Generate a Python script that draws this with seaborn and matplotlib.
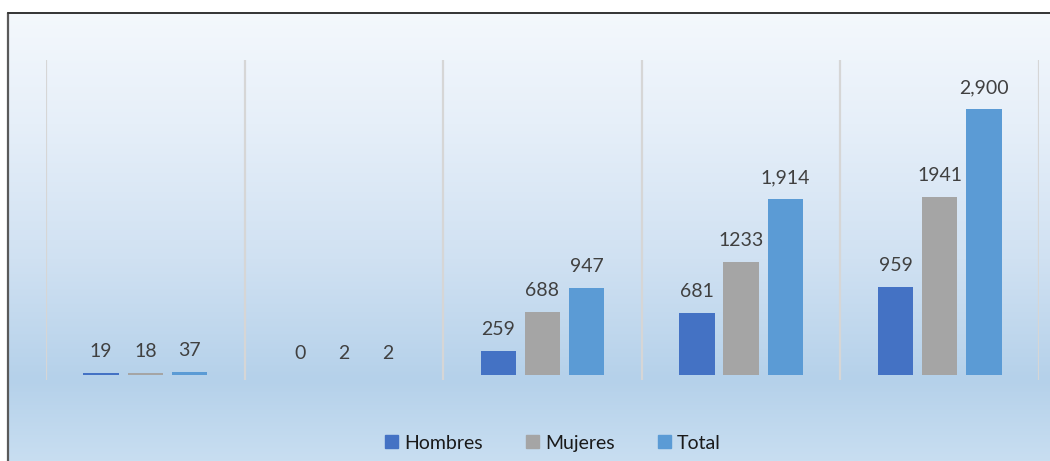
import numpy as np
import pandas as pd
import matplotlib
matplotlib.use("Agg")
import matplotlib.pyplot as plt
from matplotlib.lines import Line2D
from matplotlib.colors import LinearSegmentedColormap
import seaborn as sns

# Data
groups = ["G1", "G2", "G3", "G4", "G5"]
series = ["Hombres", "Mujeres", "Total"]
hombres = [19, 0, 259, 681, 959]
mujeres = [18, 2, 688, 1233, 1941]
total = [37, 2, 947, 1914, 2900]
hombres_labels = ["19", "0", "259", "681", "959"]
mujeres_labels = ["18", "2", "688", "1233", "1941"]
total_labels = ["37", "2", "947", "1,914", "2,900"]

palette = {"Hombres": "#4472C4", "Mujeres": "#A5A5A5", "Total": "#5B9BD5"}

df = pd.DataFrame({
    "grupo": groups * 3,
    "serie": ["Hombres"] * 5 + ["Mujeres"] * 5 + ["Total"] * 5,
    "valor": hombres + mujeres + total,
    "etiqueta": hombres_labels + mujeres_labels + total_labels,
})

sns.set_theme(style="white")
plt.rcParams["font.family"] = ["Lato", "DejaVu Sans"]

W, H = 1050, 461
fig = plt.figure(figsize=(W / 100, H / 100), dpi=100)
fig.patch.set_facecolor("white")

# Gradient background inside the chart frame
left_px, top_px = 8, 13
bg = fig.add_axes([left_px / W, 0, 1 - left_px / W, 1 - top_px / H], zorder=0)
stops = [(0.0, (244, 248, 252)), (0.25, (230, 239, 249)), (0.55, (208, 225, 242)),
         (0.82, (181, 209, 234)), (1.0, (200, 222, 241))]
cmap = LinearSegmentedColormap.from_list(
    "bg", [(p, tuple(c / 255 for c in col)) for p, col in stops])
grad = np.linspace(0, 1, 256).reshape(-1, 1)
bg.imshow(grad, aspect="auto", cmap=cmap, extent=[0, 1, 0, 1], origin="upper")
bg.set_axis_off()

# Frame lines (left and top)
fig.add_artist(Line2D([left_px / W, left_px / W], [0, 1 - top_px / H],
                      transform=fig.transFigure, color="#5a5a5a", lw=1.6))
fig.add_artist(Line2D([left_px / W, 1], [1 - top_px / H, 1 - top_px / H],
                      transform=fig.transFigure, color="#333333", lw=1.4))

# Plot area
x0, x1 = 46, 1039
ybase, ytop, ybot = 375, 60, 380
px_per_unit = (ybase - 109) / 2900.0
ymax = (ybase - ytop) / px_per_unit
ymin = -(ybot - ybase) / px_per_unit
ax = fig.add_axes([x0 / W, (H - ybot) / H, (x1 - x0) / W, (ybot - ytop) / H], zorder=1)
ax.patch.set_alpha(0)

sns.barplot(data=df, x="grupo", y="valor", hue="serie", hue_order=series,
            palette=palette, width=0.667, gap=0.2, ax=ax, legend=False,
            saturation=1, errorbar=None, linewidth=0, edgecolor="none")

ax.set_xlim(-0.5, len(groups) - 0.5)
ax.set_ylim(ymin, ymax)
for b in np.arange(-0.5, len(groups), 1.0):
    ax.axvline(b, color="#d6d6d6", lw=1.6, zorder=0)

# Value labels
for container, s in zip(ax.containers, series):
    labs = df.loc[df["serie"] == s, "etiqueta"].tolist()
    for bar, lab in zip(container, labs):
        ax.annotate(lab, (bar.get_x() + bar.get_width() / 2, bar.get_height()),
                    xytext=(0, 11.5), textcoords="offset points",
                    ha="center", va="baseline", fontsize=14, color="#404040")

ax.set_xticks([])
ax.set_yticks([])
ax.set_xlabel("")
ax.set_ylabel("")
for sp in ax.spines.values():
    sp.set_visible(False)

handles = [plt.Rectangle((0, 0), 1, 1, color=palette[s]) for s in series]
fig.legend(handles, series, loc="center", bbox_to_anchor=(553 / W, (H - 443) / H),
           ncol=3, frameon=False, fontsize=14, handlelength=0.65, handleheight=0.65,
           handletextpad=0.3, columnspacing=2.25, labelcolor="#1a1a1a")

fig.savefig("out.png", dpi=100, facecolor="white")
